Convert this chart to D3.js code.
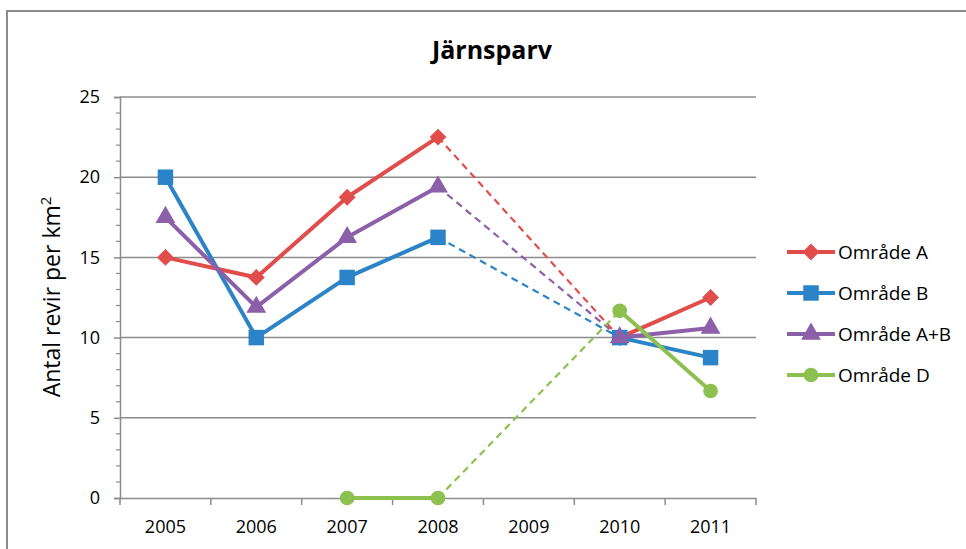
<!DOCTYPE html>
<html><head><meta charset="utf-8">
<script src="https://cdn.jsdelivr.net/npm/d3@7"></script>
<style>body{margin:0;background:#fff;}svg{display:block;font-family:"Open Sans","Noto Sans",sans-serif;}</style>
</head><body><svg id="c" width="966" height="549"></svg>
<script>
const years = ["2005","2006","2007","2008","2009","2010","2011"];
const yTicks = [0,5,10,15,20,25];
const omradeA  = [15, 13.75, 18.75, 22.5, null, 10, 12.5];
const omradeB  = [20, 10, 13.75, 16.25, null, 10, 8.75];
const omradeAB = [17.5, 11.9, 16.25, 19.4, null, 10, 10.6];
const omradeD  = [null, null, 0, 0, null, 11.67, 6.67];
const seriesNames = ["Område A","Område B","Område A+B","Område D"];

const series = [
  {name: seriesNames[0], values: omradeA, color:"#E04D4B", sym: d3.symbolDiamond2, size: 180},
  {name: seriesNames[1], values: omradeB, color:"#2A84C7", sym: d3.symbolSquare, size: 240},
  {name: seriesNames[2], values: omradeAB, color:"#8C5FA9", sym: d3.symbolTriangle, size: 170},
  {name: seriesNames[3], values: omradeD, color:"#8CC150", sym: d3.symbolCircle, size: 170}
];

const svg = d3.select("#c");
svg.append("rect").attr("x",7).attr("y",11).attr("width",970).attr("height",560)
  .attr("fill","#fff").attr("stroke","#8c8c8c").attr("stroke-width",2);

const L=120, R=756, T=97, B=498;
const x = d3.scaleBand().domain(years).range([L,R]);
const y = d3.scaleLinear().domain([0,25]).range([B,T]);

// gridlines
svg.append("g").selectAll("line").data(yTicks.filter(d=>d>0)).join("line")
  .attr("x1",L).attr("x2",R).attr("y1",d=>y(d)).attr("y2",d=>y(d))
  .attr("stroke","#8c8c8c").attr("stroke-width",1.5);

// y axis
const ya = svg.append("g").attr("transform",`translate(${L},0)`)
  .call(d3.axisLeft(y).tickValues(yTicks).tickSize(6).tickPadding(14));
ya.select(".domain").attr("stroke","#8c8c8c").attr("stroke-width",1.5);
ya.selectAll(".tick line").attr("stroke","#8c8c8c").attr("stroke-width",1.5);
ya.selectAll("text").attr("font-size",18).attr("fill","#000").attr("font-family","Open Sans");
svg.append("g").selectAll("line").data(d3.range(0,26).filter(d=>d%5!==0)).join("line")
  .attr("x1",L-4).attr("x2",L).attr("y1",d=>y(d)).attr("y2",d=>y(d))
  .attr("stroke","#8c8c8c").attr("stroke-width",1.2);

// x axis
const xa = svg.append("g").attr("transform",`translate(0,${B})`)
  .call(d3.axisBottom(x).tickSize(0).tickPadding(22));
xa.select(".domain").attr("stroke","#8c8c8c").attr("stroke-width",1.5);
xa.selectAll("text").attr("font-size",18).attr("fill","#000").attr("font-family","Open Sans");
svg.append("g").selectAll("line").data(d3.range(years.length+1)).join("line")
  .attr("x1",i=>L+i*x.bandwidth()).attr("x2",i=>L+i*x.bandwidth())
  .attr("y1",B).attr("y2",B+7).attr("stroke","#8c8c8c").attr("stroke-width",1.5);

// title
svg.append("text").attr("x",492).attr("y",59).attr("text-anchor","middle")
  .attr("font-size",25).attr("font-weight","bold").text("Järnsparv");

// y axis title
svg.append("text").attr("transform","translate(60,297) rotate(-90)").attr("text-anchor","middle")
  .attr("font-size",23).attr("font-family","Open Sans")
  .text("Antal revir per km").append("tspan").attr("font-size",15).attr("dy",-9).text("2");

const cx = (i)=>x(years[i])+x.bandwidth()/2;
const line = d3.line().defined(d=>d.v!=null).x(d=>cx(d.i)).y(d=>y(d.v));

series.forEach(s=>{
  const pts = s.values.map((v,i)=>({v,i}));
  const valid = pts.filter(p=>p.v!=null);
  const bridges = [];
  for(let k=1;k<valid.length;k++){ if(valid[k].i-valid[k-1].i>1) bridges.push([valid[k-1],valid[k]]); }
  bridges.forEach(b=>{
    svg.append("path").attr("d",d3.line().x(d=>cx(d.i)).y(d=>y(d.v))(b))
      .attr("fill","none").attr("stroke",s.color).attr("stroke-width",2.2).attr("stroke-dasharray","7,5");
  });
});
series.forEach(s=>{
  const pts = s.values.map((v,i)=>({v,i}));
  svg.append("path").attr("d",line(pts)).attr("fill","none").attr("stroke",s.color)
    .attr("stroke-width",4).attr("stroke-linejoin","round");
  svg.append("g").selectAll("path").data(pts.filter(p=>p.v!=null)).join("path")
    .attr("transform",p=>`translate(${cx(p.i)},${y(p.v)})`)
    .attr("d",d3.symbol().type(s.sym).size(s.size)).attr("fill",s.color);
});

// legend
const lg = svg.append("g");
series.forEach((s,k)=>{
  const yy = 252 + k*41;
  lg.append("line").attr("x1",787).attr("x2",835).attr("y1",yy).attr("y2",yy)
    .attr("stroke",s.color).attr("stroke-width",4);
  lg.append("path").attr("transform",`translate(811,${yy})`)
    .attr("d",d3.symbol().type(s.sym).size(s.size)).attr("fill",s.color);
  lg.append("text").attr("x",838).attr("y",yy+7).attr("font-size",19)
    .attr("font-family","Open Sans").text(s.name);
});
</script></body></html>
